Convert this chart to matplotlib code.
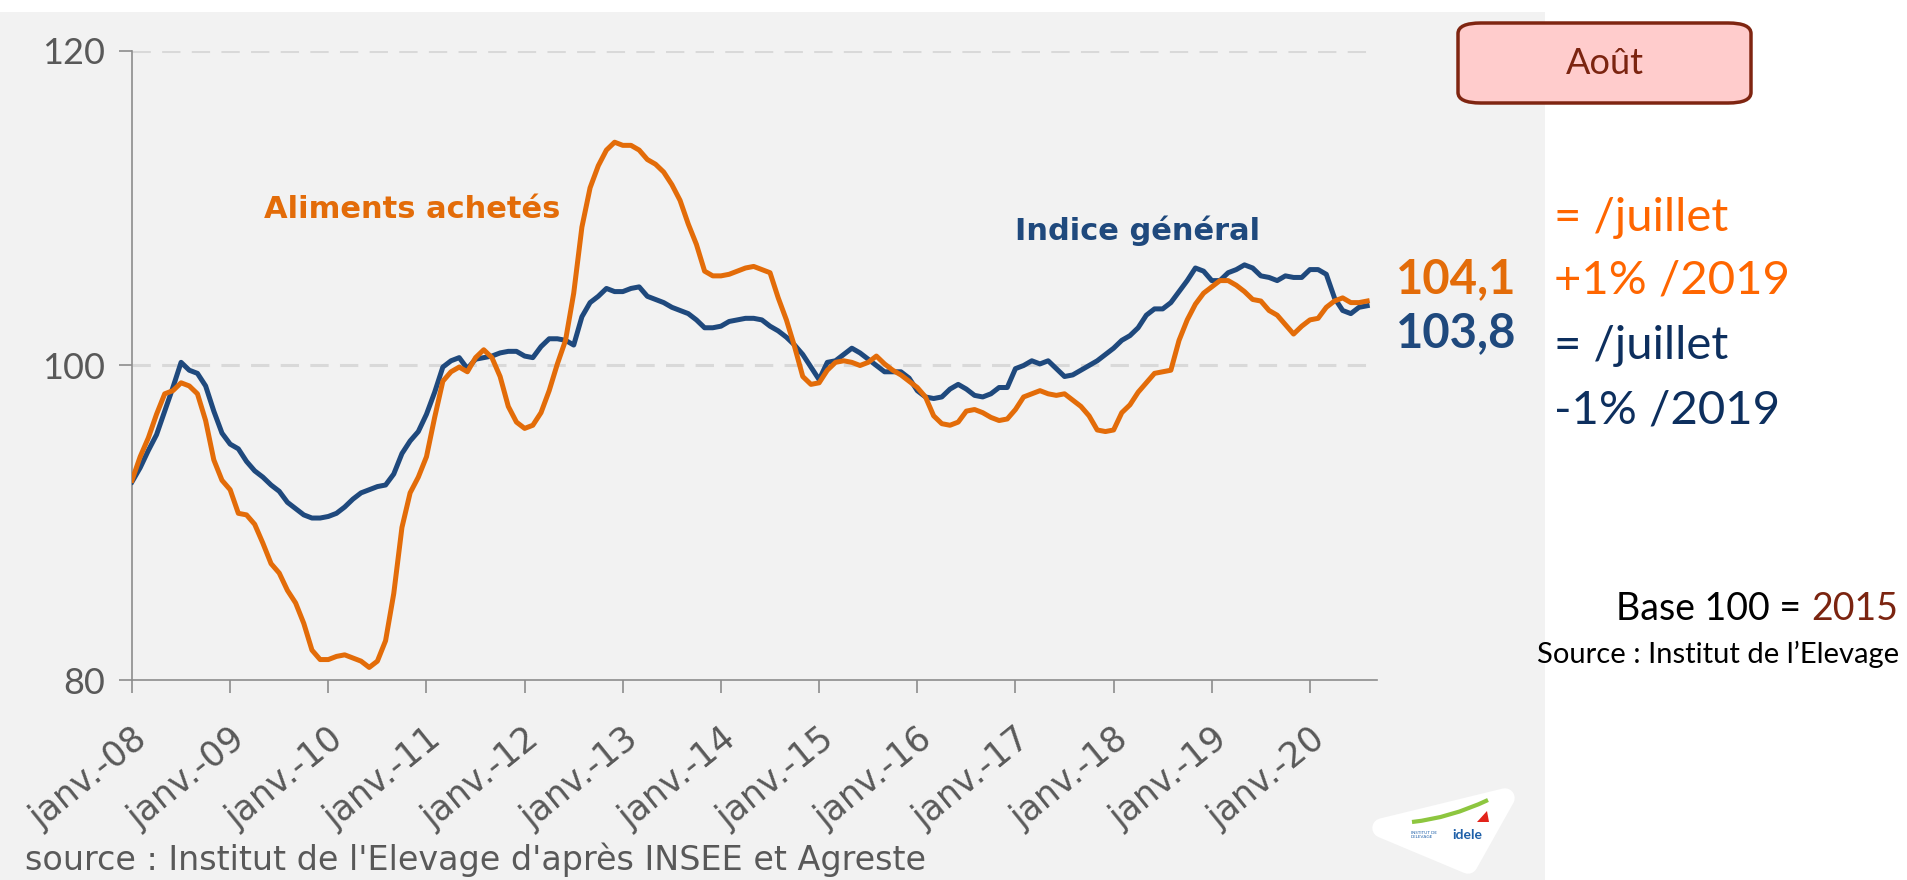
import matplotlib.pyplot as plt
from matplotlib.patches import Rectangle, FancyBboxPatch, Polygon, PathPatch
from matplotlib.path import Path

# monthly index, base 100 = 2015, janv. 2008 -> août 2020
indice_general = [
    92.6, 93.5, 94.6, 95.6, 97.1, 98.6, 100.2, 99.7, 99.5, 98.7, 97.1, 95.7,
    95.0, 94.7, 93.9, 93.3, 92.9, 92.4, 92.0, 91.3, 90.9, 90.5, 90.3, 90.3,
    90.4, 90.6, 91.0, 91.5, 91.9, 92.1, 92.3, 92.4, 93.1, 94.4, 95.2, 95.8,
    96.9, 98.3, 99.9, 100.3, 100.5, 99.8, 100.4, 100.5, 100.6, 100.8, 100.9, 100.9,
    100.6, 100.5, 101.2, 101.7, 101.7, 101.6, 101.3, 103.1, 104.0, 104.4, 104.9, 104.7,
    104.7, 104.9, 105.0, 104.4, 104.2, 104.0, 103.7, 103.5, 103.3, 102.9, 102.4, 102.4,
    102.5, 102.8, 102.9, 103.0, 103.0, 102.9, 102.5, 102.2, 101.8, 101.3, 100.7, 99.9,
    99.1, 100.2, 100.3, 100.7, 101.1, 100.8, 100.4, 100.0, 99.6, 99.6, 99.6, 99.2,
    98.4, 98.0, 97.9, 98.0, 98.5, 98.8, 98.5, 98.1, 98.0, 98.2, 98.6, 98.6,
    99.8, 100.0, 100.3, 100.1, 100.3, 99.8, 99.3, 99.4, 99.7, 100.0, 100.3, 100.7,
    101.1, 101.6, 101.9, 102.4, 103.2, 103.6, 103.6, 104.0, 104.7, 105.4, 106.2, 106.0,
    105.4, 105.4, 105.9, 106.1, 106.4, 106.2, 105.7, 105.6, 105.4, 105.7, 105.6, 105.6,
    106.1, 106.1, 105.8, 104.3, 103.5, 103.3, 103.7, 103.8,
]
aliments_achetes = [
    92.7, 94.2, 95.4, 96.9, 98.2, 98.4, 98.9, 98.7, 98.2, 96.5, 94.0, 92.7,
    92.1, 90.6, 90.5, 89.9, 88.7, 87.4, 86.8, 85.7, 84.9, 83.6, 81.9, 81.3,
    81.3, 81.5, 81.6, 81.4, 81.2, 80.8, 81.2, 82.5, 85.5, 89.7, 91.9, 92.9,
    94.2, 96.7, 99.0, 99.6, 99.9, 99.6, 100.5, 101.0, 100.5, 99.3, 97.4, 96.4,
    96.0, 96.2, 97.0, 98.4, 100.1, 101.6, 104.6, 108.8, 111.3, 112.7, 113.7, 114.2,
    114.0, 114.0, 113.7, 113.1, 112.8, 112.3, 111.5, 110.5, 109.0, 107.7, 106.0, 105.7,
    105.7, 105.8, 106.0, 106.2, 106.3, 106.1, 105.9, 104.3, 102.9, 101.2, 99.3, 98.8,
    98.9, 99.7, 100.2, 100.3, 100.2, 100.0, 100.2, 100.6, 100.1, 99.7, 99.4, 99.0,
    98.6, 98.0, 96.8, 96.3, 96.2, 96.4, 97.1, 97.2, 97.0, 96.7, 96.5, 96.6,
    97.2, 98.0, 98.2, 98.4, 98.2, 98.1, 98.2, 97.8, 97.4, 96.8, 95.9, 95.8,
    95.9, 97.0, 97.5, 98.3, 98.9, 99.5, 99.6, 99.7, 101.6, 102.9, 103.9, 104.6,
    105.0, 105.4, 105.4, 105.1, 104.7, 104.2, 104.1, 103.5, 103.2, 102.6, 102.0, 102.5,
    102.9, 103.0, 103.7, 104.1, 104.3, 104.0, 104.0, 104.1,
]
tick_labels = ["janv.-%02d" % y for y in range(8, 21)]

BLUE = "#1f497d"
ORANGE = "#e36c09"
GREY_TXT = "#595959"
W, H = 1907, 880


def fx(x):
    return x / W


def fy(y):
    return 1 - y / H


fig = plt.figure(figsize=(W / 100, H / 100), dpi=100)
fig.patch.set_facecolor("white")
fig.patches.append(Rectangle((0, 0), fx(1545), fy(12), transform=fig.transFigure,
                             facecolor="#f2f2f2", edgecolor="none", zorder=-5))

ax = fig.add_axes([fx(132), fy(680), fx(1377) - fx(132), fy(51) - fy(680)])
ax.set_facecolor("none")
months = list(range(len(indice_general)))
ax.plot(months, indice_general, color=BLUE, lw=3.6, solid_joinstyle="round", zorder=3)
ax.plot(months, aliments_achetes, color=ORANGE, lw=3.6, solid_joinstyle="round", zorder=4)

ax.set_xlim(0, 152.2)
ax.set_ylim(80, 120)
ax.set_yticks([80, 100, 120])
ax.set_xticks(range(0, 12 * len(tick_labels), 12))
ax.set_xticklabels(tick_labels, rotation=39, ha="right", rotation_mode="anchor")
for v in (100, 120):
    ax.axhline(v, color="#d9d9d9", lw=2.2, dashes=(6, 3.7), zorder=1)
for s in ("top", "right"):
    ax.spines[s].set_visible(False)
for s in ("left", "bottom"):
    ax.spines[s].set_color("#8c8c8c")
    ax.spines[s].set_linewidth(1.2)
ax.tick_params(axis="both", direction="out", length=9.5, width=1.2, color="#8c8c8c",
               labelcolor=GREY_TXT)
ax.tick_params(axis="y", pad=10, labelsize=26)
ax.tick_params(axis="x", pad=20, labelsize=25)
for lab in ax.get_yticklabels():
    lab.set_family("Lato")
for lab in ax.get_xticklabels():
    lab.set_family("DejaVu Sans")

# series names and last values
fig.text(fx(264), fy(218), "Aliments achetés", color=ORANGE, family="DejaVu Sans",
         weight="bold", fontsize=22)
fig.text(fx(1015), fy(240), "Indice général", color=BLUE, family="DejaVu Sans",
         weight="bold", fontsize=22)
fig.text(fx(1396), fy(293), ("%.1f" % aliments_achetes[-1]).replace(".", ","),
         color=ORANGE, family="Lato", weight="bold", fontsize=34)
fig.text(fx(1396), fy(347), ("%.1f" % indice_general[-1]).replace(".", ","),
         color=BLUE, family="Lato", weight="bold", fontsize=34)

# monthly / yearly variation
R_ORANGE = "#ff6600"
R_BLUE = "#0d2f5e"
for txt, y, c in [("= /juillet", 231, R_ORANGE), ("+1% /2019", 294, R_ORANGE),
                  ("= /juillet", 359, R_BLUE), ("-1% /2019", 423, R_BLUE)]:
    fig.text(fx(1554), fy(y), txt, color=c, family="Lato", fontsize=34)

# month box
fig.patches.append(FancyBboxPatch((fx(1458), fy(103)), fx(1751) - fx(1458), fy(23) - fy(103),
                                  boxstyle="round,pad=0,rounding_size=0.012",
                                  transform=fig.transFigure, facecolor="#ffcccc",
                                  edgecolor="#7f2511", lw=2.5, zorder=2))
fig.text(fx(1605), fy(63), "Août", color="#7b2410", family="Lato", fontsize=26,
         ha="center", va="center", zorder=3)

year_txt = fig.text(fx(1898), fy(620), "2015", color="#7b2410", family="Lato",
                    fontsize=27, ha="right")
fig.canvas.draw()
year_left = year_txt.get_window_extent().x0 / W
fig.text(year_left, fy(620), "Base 100 = ", color="black", family="Lato",
         fontsize=27, ha="right")
fig.text(fx(1899), fy(663), "Source : Institut de l\u2019Elevage", color="black",
         family="Lato", fontsize=21, ha="right")

fig.text(fx(25), fy(870), "source : Institut de l'Elevage d'après INSEE et Agreste",
         color=GREY_TXT, family="DejaVu Sans", fontsize=24)

# small logo badge
badge = Polygon([[fx(1382), fy(828)], [fx(1505), fy(798)], [fx(1468), fy(864)]],
                closed=True, transform=fig.transFigure, facecolor="white",
                edgecolor="white", lw=14, joinstyle="round", zorder=2)
fig.patches.append(badge)
swoosh = Path([(fx(1412), fy(822)), (fx(1450), fy(818)), (fx(1488), fy(800))],
              [Path.MOVETO, Path.CURVE3, Path.CURVE3])
fig.patches.append(PathPatch(swoosh, transform=fig.transFigure, facecolor="none",
                             edgecolor="#8dc63f", lw=3, zorder=3))
fig.patches.append(Polygon([[fx(1477), fy(822)], [fx(1487), fy(811)], [fx(1489), fy(822)]],
                           closed=True, transform=fig.transFigure, facecolor="#e2231a",
                           edgecolor="none", zorder=3))
fig.text(fx(1452), fy(839), "idele", color="#1d5fa8", family="Lato", weight="bold",
         fontsize=10, zorder=3)
fig.text(fx(1411), fy(838), "INSTITUT DE\nL'ELEVAGE", color="#1d5fa8", family="Lato",
         fontsize=3.2, zorder=3, linespacing=1.0)

fig.savefig("out.png", dpi=100)
